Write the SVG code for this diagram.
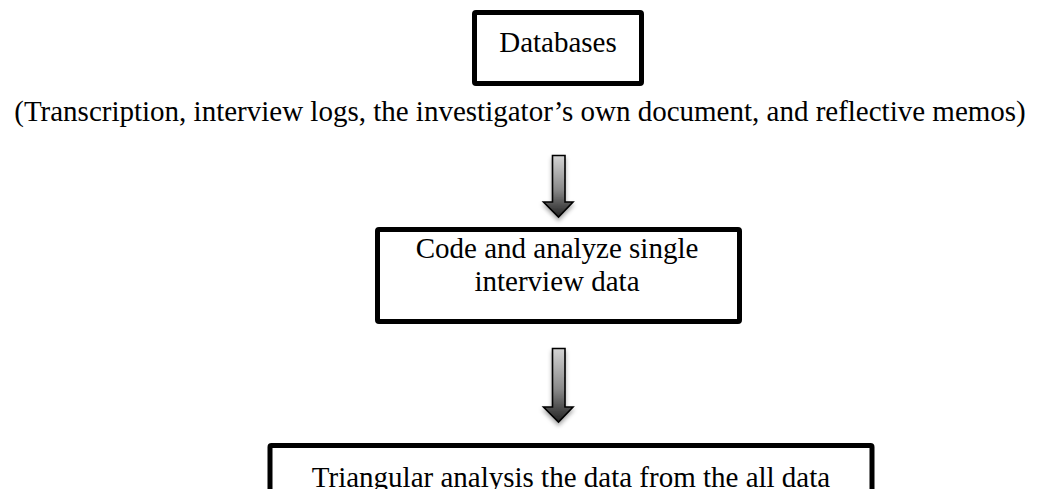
<svg xmlns="http://www.w3.org/2000/svg" width="1039" height="489" viewBox="0 0 1039 489">
  <style>
    .box { fill: #ffffff; stroke: #000000; stroke-width: 5; }
    .label { font-family: "Liberation Serif", "Times New Roman", serif; font-size: 29px; fill: #000000; text-anchor: middle; }
    .arrow { fill: url(#arrowFill); stroke: #000000; stroke-width: 1.6; stroke-linejoin: miter; filter: url(#arrowShadow); }
  </style>
  <defs>
    <linearGradient id="arrowFill" x1="0" y1="0" x2="0" y2="1">
      <stop offset="0" stop-color="#d4d4d4"/>
      <stop offset="0.55" stop-color="#8a8a8a"/>
      <stop offset="1" stop-color="#222222"/>
    </linearGradient>
    <filter id="arrowShadow" x="-60%" y="-20%" width="220%" height="150%">
      <feDropShadow dx="0" dy="3" stdDeviation="2" flood-color="#000000" flood-opacity="0.35"/>
    </filter>
  </defs>

  <g id="databases">
    <rect class="box" x="474.5" y="12.5" width="167" height="71" rx="1.5"/>
    <text class="label" x="558" y="52">Databases</text>
  </g>

  <g id="sources">
    <text class="label" x="520" y="121">(Transcription, interview logs, the investigator’s own document, and reflective memos)</text>
  </g>

  <g id="code-analyze">
    <rect class="box" x="377.5" y="229.5" width="362" height="92" rx="1.5"/>
    <text class="label" x="557" y="258">Code and analyze single</text>
    <text class="label" x="557" y="291">interview data</text>
  </g>

  <g id="triangular">
    <rect class="box" x="270" y="445.5" width="602" height="80" rx="1.5"/>
    <text class="label" x="571" y="487">Triangular analysis the data from the all data</text>
  </g>

  <g id="connectors">
    <path class="arrow" d="M552.5 155.5 H565 V202 H573 L558.5 217 L543.5 202 H552.5 Z"/>
    <path class="arrow" d="M552.5 348.5 H565 V407 H573 L558.5 422 L543.5 407 H552.5 Z"/>
  </g>
</svg>
